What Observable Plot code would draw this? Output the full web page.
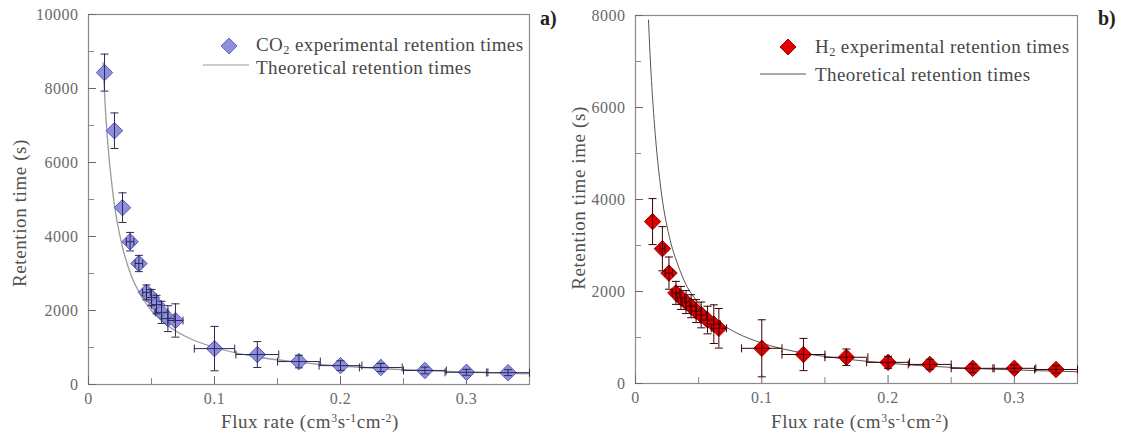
<!DOCTYPE html>
<html><head><meta charset="utf-8">
<script src="https://cdn.jsdelivr.net/npm/d3@7"></script>
<script src="https://cdn.jsdelivr.net/npm/@observablehq/plot@0.6"></script>
<style>
body{margin:0;background:#fff;font-family:"Liberation Serif","Times New Roman",serif;}
#wrap{position:relative;width:1126px;height:439px;overflow:hidden;background:#fff}
#wrap svg, #wrap svg text{font-family:"Liberation Serif","Times New Roman",serif !important;}
.panel{position:absolute;top:0}
.t{position:absolute;white-space:nowrap;color:#404040;line-height:1}
.leg{font-size:19px;letter-spacing:0.4px;color:#484848}
.ytitle{font-size:19px;letter-spacing:0.6px;transform:translate(-50%,-50%) rotate(-90deg);color:#505050}
.xtitle{font-size:19px;letter-spacing:0.6px;transform:translateX(-50%);color:#505050}
.tag{font-size:20px;font-weight:bold;color:#222}
sub{font-size:65%;vertical-align:-0.25em;line-height:0}
sup{font-size:62%;vertical-align:0.5em;line-height:0}
</style></head>
<body>
<div id="wrap">
  <div id="pa" class="panel" style="left:0"></div>
  <div id="pb" class="panel" style="left:563px"></div>

  <div class="t ytitle" style="left:19px;top:213px">Retention time (s)</div>
  <div class="t xtitle" style="left:310px;top:412px">Flux rate (cm<sup>3</sup>s<sup>-1</sup>cm<sup>-2</sup>)</div>
  <div class="t tag" style="left:540px;top:8px">a)</div>

  <div class="t ytitle" style="left:578px;top:198px">Retention time ime (s)</div>
  <div class="t xtitle" style="left:860px;top:412px">Flux rate (cm<sup>3</sup>s<sup>-1</sup>cm<sup>-2</sup>)</div>
  <div class="t tag" style="left:1098px;top:8px">b)</div>

  <svg style="position:absolute;left:219px;top:36px" width="20" height="20"><polygon points="10,2 18,10 10,18 2,10" fill="#8f8fe0" stroke="#6a6ac0" stroke-width="1"/></svg>
  <div class="t leg" style="left:256px;top:35px">CO<sub>2</sub> experimental retention times</div>
  <svg style="position:absolute;left:203px;top:60px" width="50" height="10"><line x1="0" y1="5" x2="46" y2="5" stroke="#999" stroke-width="1.2"/></svg>
  <div class="t leg" style="left:256px;top:58px">Theoretical retention times</div>

  <svg style="position:absolute;left:778px;top:37px" width="20" height="20"><polygon points="10,2 18,10 10,18 2,10" fill="#e00000" stroke="#b00000" stroke-width="1"/></svg>
  <div class="t leg" style="left:815px;top:37px">H<sub>2</sub> experimental retention times</div>
  <svg style="position:absolute;left:760px;top:69px" width="50" height="10"><line x1="0" y1="5" x2="46" y2="5" stroke="#555" stroke-width="1"/></svg>
  <div class="t leg" style="left:815px;top:65px">Theoretical retention times</div>
</div>
<script>
// ---- Panel a) CO2 ----
const co2Flux    = [0.0127,0.0206,0.027,0.033,0.04,0.046,0.05,0.054,0.058,0.063,0.069,0.1,0.134,0.167,0.2,0.232,0.267,0.3,0.333];
const co2Time    = [8430,6860,4780,3860,3270,2490,2350,2160,1950,1780,1730,970,810,620,510,460,380,330,320];
const co2TimeErr = [500,480,400,250,220,200,220,250,300,350,450,600,350,170,130,110,90,80,80];
const co2FluxErr = [0,0,0,0.003,0.003,0.003,0.004,0.004,0.005,0.005,0.006,0.016,0.017,0.017,0.017,0.017,0.017,0.017,0.017];
const co2TheoryFlux = [0.0115,0.0133,0.016,0.02,0.0267,0.0333,0.04,0.05,0.06,0.0667,0.08,0.1,0.133,0.167,0.2,0.25,0.3,0.35];
const co2TheoryTime = [8700,7500,6250,5000,3750,3000,2500,2000,1670,1500,1250,1000,750,600,500,400,333,286];

// ---- Panel b) H2 ----
const h2Flux    = [0.0135,0.0213,0.0265,0.032,0.036,0.04,0.044,0.048,0.052,0.057,0.062,0.066,0.1,0.133,0.167,0.2,0.233,0.267,0.3,0.333];
const h2Time    = [3520,2930,2400,1970,1860,1770,1680,1575,1490,1380,1290,1200,765,630,570,460,415,330,330,305];
const h2TimeErr = [500,480,350,250,250,250,250,250,280,300,420,430,620,350,180,130,110,90,80,80];
const h2FluxErr = [0,0.002,0.003,0.003,0.003,0.003,0.004,0.004,0.004,0.005,0.005,0.006,0.016,0.017,0.017,0.017,0.017,0.017,0.017,0.017];
const h2TheoryFlux = [0.0103,0.012,0.0133,0.016,0.02,0.0267,0.0333,0.04,0.05,0.06,0.0667,0.08,0.1,0.133,0.167,0.2,0.25,0.3,0.35];
const h2TheoryTime = [7900,6900,6300,5300,4250,3200,2600,2150,1750,1470,1320,1100,880,660,530,440,350,295,255];

// ---- ticks ----
const xMajor = [0,0.1,0.2,0.3];
const xMinor = [0.05,0.15,0.25];
const yMajorA = [0,2000,4000,6000,8000,10000];
const yMinorA = [1000,3000,5000,7000,9000];
const yMajorB = [0,2000,4000,6000,8000];
const yMinorB = [1000,3000,5000,7000];

const hCap = {draw(ctx, size){const r = Math.sqrt(size/Math.PI); ctx.moveTo(-r,0); ctx.lineTo(r,0);}};
const vCap = {draw(ctx, size){const r = Math.sqrt(size/Math.PI); ctx.moveTo(0,-r); ctx.lineTo(0,r);}};

function panel(cfg){
  const pts = cfg.flux.map((f,i)=>({f, t: cfg.time[i], te: cfg.timeErr[i], fe: cfg.fluxErr[i]}));
  const theory = cfg.thFlux.map((f,i)=>({f, t: cfg.thTime[i]}));
  const xp = pts.filter(d=>d.fe>0);
  return Plot.plot({
    width: 563, height: 439,
    marginLeft: cfg.ml, marginRight: cfg.mr, marginTop: cfg.mt, marginBottom: cfg.mb,
    style: {fontFamily: '"Liberation Serif","Times New Roman",serif', fontSize: "16px", color: "#888", background: "transparent", letterSpacing: "0.5px"},
    x: {domain: [0,0.35]},
    y: {domain: cfg.ydom},
    marks: [
      Plot.frame({stroke: "#8a8a8a", strokeWidth: 1.2}),
      Plot.axisX(xMajor, {tickSize: -8, tickPadding: 16, label: null, tickFormat: d => d === 0 ? "0" : d3.format(".1f")(d), color: "#6a6a6a", fontSize: 16}),
      Plot.axisX(xMinor, {tickSize: -6, label: null, tickFormat: () => "", color: "#888"}),
      Plot.axisY(cfg.yMajor, {tickSize: -8, tickPadding: 18, label: null, tickFormat: d3.format("d"), color: "#6a6a6a", fontSize: 16}),
      Plot.axisY(cfg.yMinor, {tickSize: -6, label: null, tickFormat: () => "", color: "#888"}),
      Plot.line(theory, {x: "f", y: "t", stroke: cfg.lineColor, strokeWidth: cfg.lineWidth, curve: "monotone-x"}),
      Plot.dot(pts, {x: "f", y: "t", symbol: "diamond2", r: 7.4, fill: cfg.fill, stroke: cfg.stroke, strokeWidth: 1}),
      Plot.ruleX(pts, {x: "f", y1: d => d.t - d.te, y2: d => d.t + d.te, stroke: cfg.err, strokeWidth: 1}),
      Plot.dot(pts, {x: "f", y: d => d.t + d.te, symbol: hCap, r: 4, stroke: cfg.err, fill: "none", strokeWidth: 1}),
      Plot.dot(pts, {x: "f", y: d => d.t - d.te, symbol: hCap, r: 4, stroke: cfg.err, fill: "none", strokeWidth: 1}),
      Plot.ruleY(xp, {y: "t", x1: d => d.f - d.fe, x2: d => d.f + d.fe, stroke: cfg.err, strokeWidth: 1}),
      Plot.dot(xp, {x: d => d.f - d.fe, y: "t", symbol: vCap, r: 4, stroke: cfg.err, fill: "none", strokeWidth: 1}),
      Plot.dot(xp, {x: d => d.f + d.fe, y: "t", symbol: vCap, r: 4, stroke: cfg.err, fill: "none", strokeWidth: 1})
    ]
  });
}

document.getElementById("pa").append(panel({
  flux: co2Flux, time: co2Time, timeErr: co2TimeErr, fluxErr: co2FluxErr,
  thFlux: co2TheoryFlux, thTime: co2TheoryTime,
  ml: 88, mr: 34, mt: 14, mb: 55, ydom: [0,10000], yMajor: yMajorA, yMinor: yMinorA,
  fill: "#8f8fe0", stroke: "#5555b0", err: "#2a2a55", lineColor: "#9a9a9a", lineWidth: 1.3
}));
document.getElementById("pb").append(panel({
  flux: h2Flux, time: h2Time, timeErr: h2TimeErr, fluxErr: h2FluxErr,
  thFlux: h2TheoryFlux, thTime: h2TheoryTime,
  ml: 72, mr: 49, mt: 15, mb: 56, ydom: [0,8000], yMajor: yMajorB, yMinor: yMinorB,
  fill: "#e00000", stroke: "#a00000", err: "#3a0000", lineColor: "#555", lineWidth: 1
}));
</script>
</body></html>
